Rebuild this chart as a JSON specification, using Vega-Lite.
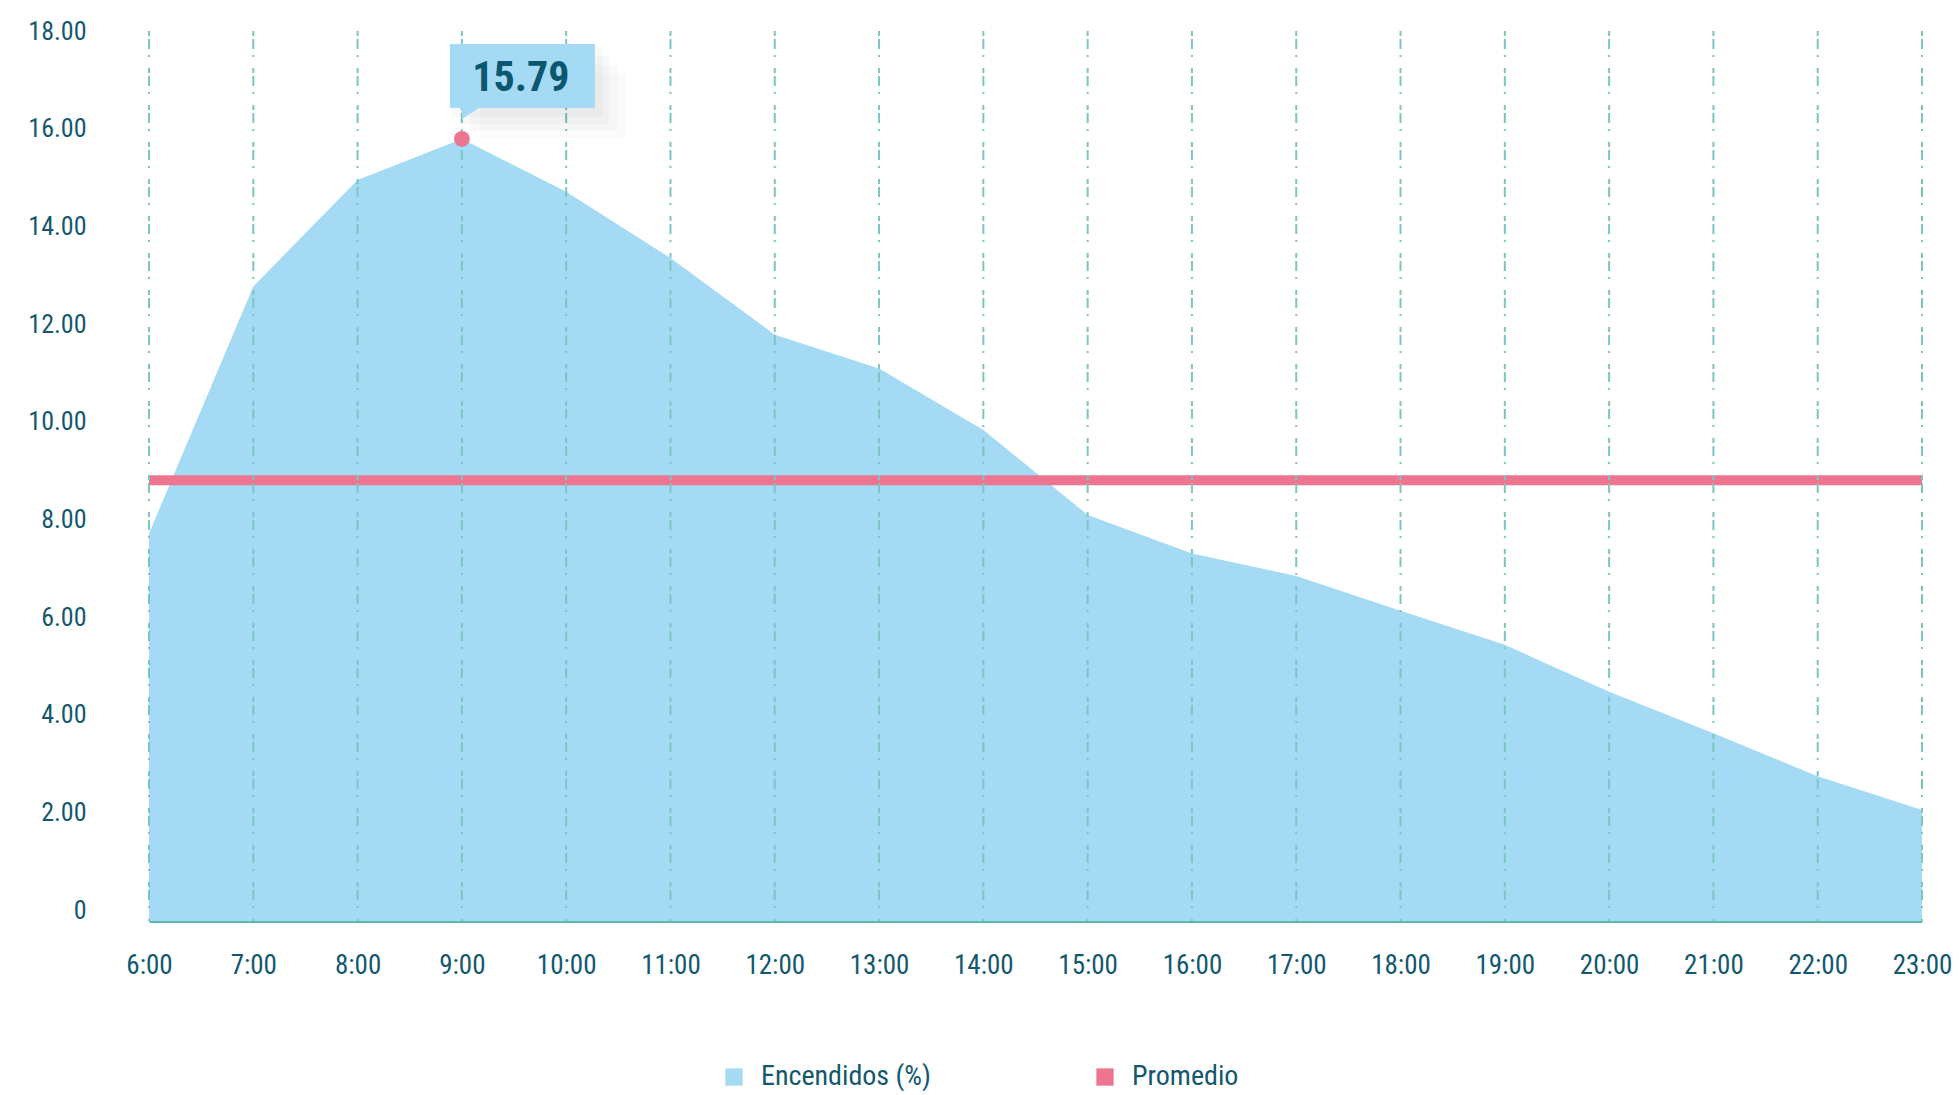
{
  "$schema": "https://vega.github.io/schema/vega-lite/v6.json",
  "width": 1773,
  "height": 890,
  "autosize": {"type": "none"},
  "padding": {"left": 149, "top": 31, "right": 38, "bottom": 174},
  "background": "white",
  "config": {
    "view": {"stroke": null},
    "font": "Roboto Condensed, Roboto, sans-serif"
  },
  "datasets": {
    "encendidos": [
      {"hora": 6, "valor": 7.71},
      {"hora": 7, "valor": 12.77},
      {"hora": 8, "valor": 14.95},
      {"hora": 9, "valor": 15.79},
      {"hora": 10, "valor": 14.71},
      {"hora": 11, "valor": 13.35},
      {"hora": 12, "valor": 11.78},
      {"hora": 13, "valor": 11.09},
      {"hora": 14, "valor": 9.83},
      {"hora": 15, "valor": 8.09},
      {"hora": 16, "valor": 7.3},
      {"hora": 17, "valor": 6.84},
      {"hora": 18, "valor": 6.13},
      {"hora": 19, "valor": 5.43},
      {"hora": 20, "valor": 4.47},
      {"hora": 21, "valor": 3.62},
      {"hora": 22, "valor": 2.74},
      {"hora": 23, "valor": 2.05}
    ],
    "promedio": [{"promedio": 8.8}]
  },
  "layer": [
    {
      "data": {"name": "encendidos"},
      "mark": {"type": "area", "opacity": 1},
      "encoding": {
        "x": {
          "field": "hora", "type": "quantitative",
          "scale": {"domain": [6, 23], "nice": false, "zero": false},
          "axis": {
            "title": null, "values": [6,7,8,9,10,11,12,13,14,15,16,17,18,19,20,21,22,23],
            "labelExpr": "datum.value + ':00'", "labelOverlap": false, "labelFlush": false,
            "grid": false, "ticks": false, "tickSize": 0,
            "domain": true, "domainColor": "#5DB8AC", "domainWidth": 3,
            "labelFontSize": 27, "labelColor": "#13586F", "labelPadding": 31,
            "labelFont": "Roboto Condensed, Roboto, sans-serif"
          }
        },
        "y": {
          "field": "valor", "type": "quantitative",
          "scale": {"domain": [-0.225, 18], "nice": false, "zero": false},
          "axis": {
            "title": null, "values": [0,2,4,6,8,10,12,14,16,18],
            "labelExpr": "datum.value === 0 ? '0' : format(datum.value, '.2f')",
            "labelOverlap": false, "labelFlush": false,
            "grid": false, "ticks": false, "tickSize": 0, "domain": false,
            "labelFontSize": 26, "labelColor": "#13586F", "labelPadding": 63,
            "labelFont": "Roboto Condensed, Roboto, sans-serif"
          }
        },
        "y2": {"datum": -0.225},
        "color": {
          "datum": "Encendidos (%)",
          "type": "nominal",
          "scale": {"domain": ["Encendidos (%)", "Promedio"], "range": ["#A4DAF4", "#EE7590"]},
          "legend": {
            "title": null, "orient": "none", "direction": "horizontal",
            "legendX": 571, "legendY": 1032, "padding": 0,
            "symbolType": "square", "symbolSize": 300, "symbolStrokeWidth": 0,
            "labelFontSize": 28, "labelColor": "#13586F", "labelOffset": 13,
            "labelLimit": 400, "columnPadding": 160,
            "labelFont": "Roboto Condensed, Roboto, sans-serif",
            "encode": {"symbols": {"update": {"fill": {"scale": "color", "field": "value"}, "strokeWidth": {"value": 0}, "opacity": {"value": 1}}}}
          }
        }
      }
    },
    {
      "data": {"name": "promedio"},
      "mark": {"type": "rule", "strokeWidth": 10},
      "encoding": {
        "y": {"field": "promedio", "type": "quantitative"},
        "color": {"datum": "Promedio", "type": "nominal"}
      }
    },
    {
      "data": {"name": "encendidos"},
      "mark": {"type": "rule", "stroke": "#7CC6C1", "strokeWidth": 2, "strokeDash": [5, 3, 10, 6, 2, 11]},
      "encoding": {"x": {"field": "hora", "type": "quantitative"}}
    },
    {
      "data": {"name": "encendidos"},
      "transform": [{"filter": "datum.hora === 9"}],
      "layer": [
        {
          "mark": {"type": "point", "filled": true, "color": "#000000", "opacity": 0.025, "size": 40000, "xOffset": 4, "yOffset": 6,
            "shape": "M-0.14,-0.97 L1.37,-0.97 L1.37,-0.28 L-0.14,-0.28 Z"},
          "encoding": {"x": {"field": "hora", "type": "quantitative"}, "y": {"field": "valor", "type": "quantitative"}}
        },
        {
          "mark": {"type": "point", "filled": true, "color": "#000000", "opacity": 0.025, "size": 40000, "xOffset": 10, "yOffset": 12,
            "shape": "M-0.12,-0.95 L1.37,-0.95 L1.37,-0.27 L-0.12,-0.27 Z"},
          "encoding": {"x": {"field": "hora", "type": "quantitative"}, "y": {"field": "valor", "type": "quantitative"}}
        },
        {
          "mark": {"type": "point", "filled": true, "color": "#000000", "opacity": 0.02, "size": 40000, "xOffset": 18, "yOffset": 18,
            "shape": "M-0.1,-0.92 L1.38,-0.92 L1.38,-0.26 L-0.1,-0.26 Z"},
          "encoding": {"x": {"field": "hora", "type": "quantitative"}, "y": {"field": "valor", "type": "quantitative"}}
        },
        {
          "mark": {"type": "point", "filled": true, "color": "#000000", "opacity": 0.015, "size": 40000, "xOffset": 26, "yOffset": 24,
            "shape": "M-0.08,-0.9 L1.38,-0.9 L1.38,-0.25 L-0.08,-0.25 Z"},
          "encoding": {"x": {"field": "hora", "type": "quantitative"}, "y": {"field": "valor", "type": "quantitative"}}
        },
        {
          "mark": {"type": "point", "filled": true, "color": "#A4DAF4", "opacity": 1, "size": 40000,
            "shape": "M-0.12,-0.95 L1.33,-0.95 L1.33,-0.31 L0.17,-0.31 L0,-0.2 L0,-0.31 L-0.12,-0.31 Z"},
          "encoding": {"x": {"field": "hora", "type": "quantitative"}, "y": {"field": "valor", "type": "quantitative"}}
        },
        {
          "mark": {"type": "text", "fontSize": 42, "fontWeight": "bold", "color": "#0B5670", "align": "center", "baseline": "middle", "dx": 59, "dy": -61,
            "font": "Roboto Condensed, Roboto, sans-serif"},
          "encoding": {
            "x": {"field": "hora", "type": "quantitative"},
            "y": {"field": "valor", "type": "quantitative"},
            "text": {"field": "valor", "type": "quantitative", "format": ".2f"}
          }
        },
        {
          "mark": {"type": "point", "filled": true, "color": "#EE7590", "opacity": 1, "size": 250},
          "encoding": {"x": {"field": "hora", "type": "quantitative"}, "y": {"field": "valor", "type": "quantitative"}}
        }
      ]
    }
  ]
}
